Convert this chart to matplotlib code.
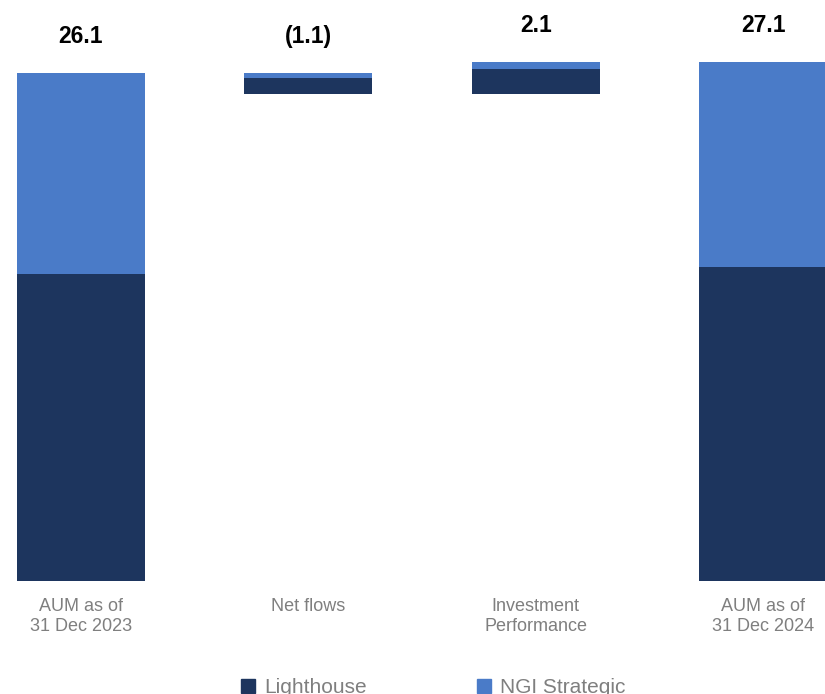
import matplotlib
matplotlib.use("Agg")
import matplotlib.pyplot as plt
from matplotlib.patches import Patch

plt.rcParams.update({
    "font.family": ["Liberation Sans", "DejaVu Sans"],
})

DARK = "#1d355e"
LIGHT = "#4a7bc8"
GREY = "#7f7f7f"

categories = ["AUM as of\n31 Dec 2023", "Net flows", "Investment\nPerformance",
              "AUM as of\n31 Dec 2024"]
value_labels = ["26.1", "(1.1)", "2.1", "27.1"]

# $bn
lighthouse = [16.0, -0.80, 1.28, 16.39]
ngi = [10.55, -0.31, 0.40, 10.71]
is_total = [True, False, False, True]

fig = plt.figure(figsize=(8.25, 6.94), dpi=100)
ax = fig.add_axes([0, 0.1633, 1, 0.8367])

width = 0.563
running = 0.0
tops = []
for i, (lh, ng, total) in enumerate(zip(lighthouse, ngi, is_total)):
    if total:
        base = 0.0
        running = lh + ng
    else:
        change = lh + ng
        base = running + change if change < 0 else running
        running += change
    lh_h, ng_h = abs(lh), abs(ng)
    ax.bar(i, lh_h, width, bottom=base, color=DARK, linewidth=0)
    ax.bar(i, ng_h, width, bottom=base + lh_h, color=LIGHT, linewidth=0)
    tops.append(base + lh_h + ng_h)

for i, (top, lab) in enumerate(zip(tops, value_labels)):
    ax.annotate(lab, (i, top), xytext=(0, 21.5), textcoords="offset points",
                ha="center", va="baseline", fontsize=16.5, fontweight="bold",
                color="black")

ax.set_xlim(-0.3563, 3.2727)
ax.set_ylim(0, 30.34)
ax.set_xticks(range(len(categories)))
ax.set_xticklabels(categories, fontsize=13, color=GREY, linespacing=1.25)
ax.tick_params(axis="x", length=0, pad=12.5)
ax.set_yticks([])
for s in ax.spines.values():
    s.set_visible(False)

handles = [Patch(color=DARK, label="Lighthouse"),
           Patch(color=LIGHT, label="NGI Strategic")]
leg = fig.legend(handles=handles, loc="center", bbox_to_anchor=(0.5255, 0.009),
                 ncol=2, frameon=False, fontsize=15, handlelength=0.65,
                 handleheight=0.65, handletextpad=0.45, columnspacing=5.3)
for t in leg.get_texts():
    t.set_color(GREY)

fig.savefig("out.png", dpi=100)
